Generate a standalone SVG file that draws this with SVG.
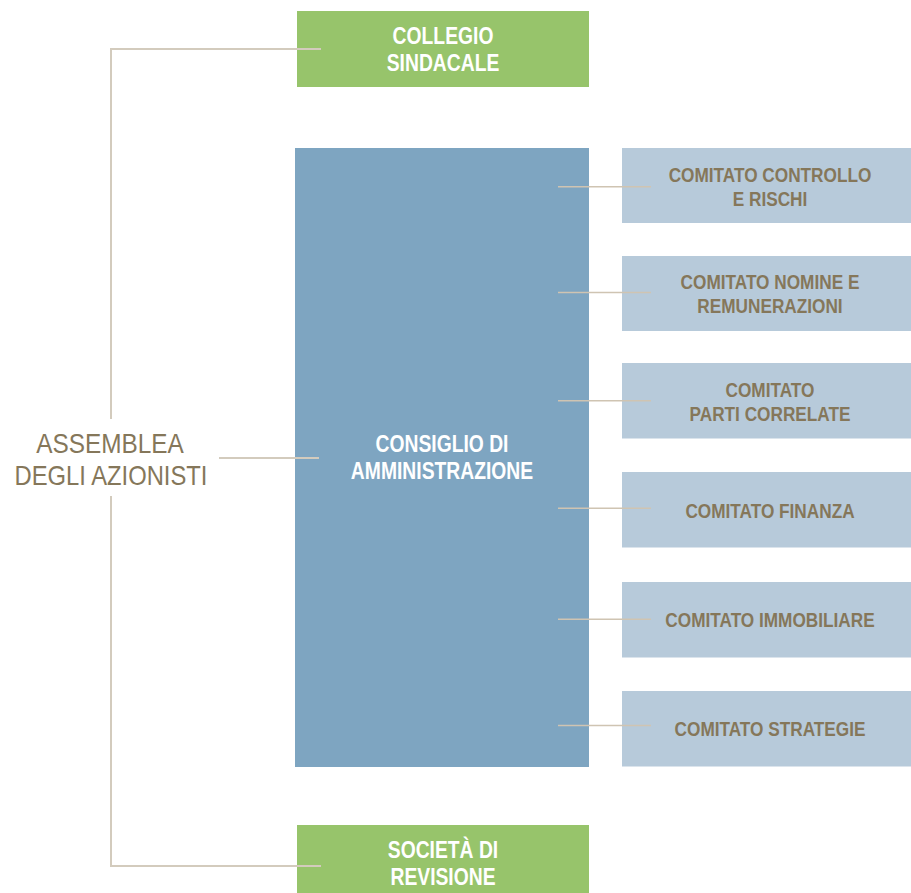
<svg xmlns="http://www.w3.org/2000/svg" width="911" height="893" viewBox="0 0 911 893">
<style>
.green{fill:#97C46B}
.main{fill:#7EA5C1}
.comm{fill:#B7CADA}
.wt{fill:#FFFFFF;font-family:"Liberation Sans",Arial,sans-serif;font-size:23px;font-weight:bold;text-anchor:middle}
.ct{fill:#85775A;font-family:"Liberation Sans",Arial,sans-serif;font-size:21px;font-weight:bold;text-anchor:middle}
.at{fill:#85775A;font-family:"Liberation Sans",Arial,sans-serif;font-size:28px;text-anchor:middle}
.ln{fill:none;stroke:#D3CBBD;stroke-width:2}
.cl{fill:none;stroke:#CFC4B2;stroke-width:1.5}
</style>
<rect width="911" height="893" fill="#FFFFFF"/>
<g id="node-assemblea">
<text class="at" transform="translate(110 453.3) scale(0.87 1)">ASSEMBLEA</text>
<text class="at" transform="translate(111 485) scale(0.85 1)">DEGLI AZIONISTI</text>
</g>
<g id="node-collegio">
<rect class="green" x="297" y="11" width="292" height="76"/>
<text class="wt" transform="translate(443 44) scale(0.84 1)">COLLEGIO</text>
<text class="wt" transform="translate(443 71) scale(0.84 1)">SINDACALE</text>
</g>
<g id="node-consiglio">
<rect class="main" x="295" y="148" width="294" height="619"/>
<text class="wt" transform="translate(442 452.3) scale(0.84 1)">CONSIGLIO DI</text>
<text class="wt" transform="translate(442 479.3) scale(0.84 1)">AMMINISTRAZIONE</text>
</g>
<g id="node-societa">
<rect class="green" x="297" y="825" width="292" height="68"/>
<text class="wt" transform="translate(443 858.3) scale(0.84 1)">SOCIETÀ DI</text>
<text class="wt" transform="translate(443 885) scale(0.84 1)">REVISIONE</text>
</g>
<g id="node-controllo-rischi">
<rect class="comm" x="622" y="148" width="289" height="75"/>
<text class="ct" transform="translate(770 182.3) scale(0.82 1)">COMITATO CONTROLLO</text>
<text class="ct" transform="translate(770 205.7) scale(0.82 1)">E RISCHI</text>
</g>
<g id="node-nomine">
<rect class="comm" x="622" y="256" width="289" height="75"/>
<text class="ct" transform="translate(770 289) scale(0.82 1)">COMITATO NOMINE E</text>
<text class="ct" transform="translate(770 312.7) scale(0.82 1)">REMUNERAZIONI</text>
</g>
<g id="node-parti-correlate">
<rect class="comm" x="622" y="363" width="289" height="75.5"/>
<text class="ct" transform="translate(770 396.5) scale(0.82 1)">COMITATO</text>
<text class="ct" transform="translate(770 420.5) scale(0.82 1)">PARTI CORRELATE</text>
</g>
<g id="node-finanza">
<rect class="comm" x="622" y="472" width="289" height="75.5"/>
<text class="ct" transform="translate(770 517.7) scale(0.82 1)">COMITATO FINANZA</text>
</g>
<g id="node-immobiliare">
<rect class="comm" x="622" y="582" width="289" height="75.5"/>
<text class="ct" transform="translate(770 626.7) scale(0.82 1)">COMITATO IMMOBILIARE</text>
</g>
<g id="node-strategie">
<rect class="comm" x="622" y="691" width="289" height="75.5"/>
<text class="ct" transform="translate(770 735.7) scale(0.82 1)">COMITATO STRATEGIE</text>
</g>
<g id="connectors">
<path class="ln" d="M321 49 H111 V419"/>
<path class="ln" d="M111 496 V866 H321"/>
<path class="ln" d="M219 458 H319"/>
<path class="cl" d="M558 186.7 H651"/>
<path class="cl" d="M558 292.5 H651"/>
<path class="cl" d="M558 400.7 H651"/>
<path class="cl" d="M558 508.3 H651"/>
<path class="cl" d="M558 619.3 H651"/>
<path class="cl" d="M558 725.5 H651"/>
</g>
</svg>
